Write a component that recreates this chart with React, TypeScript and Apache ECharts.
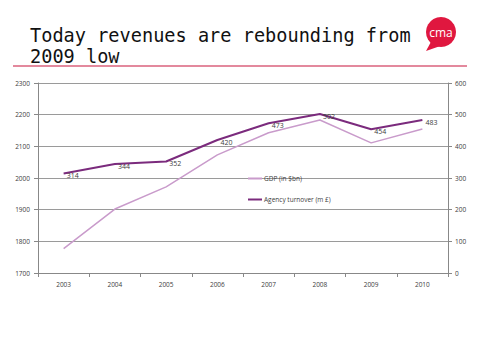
import React, { useEffect, useRef } from "react";
import * as echarts from "echarts";

const years = ["2003", "2004", "2005", "2006", "2007", "2008", "2009", "2010"];
const gdp = [1777, 1902, 1972, 2073, 2143, 2183, 2111, 2155];
const agency = [314, 344, 352, 420, 473, 502, 454, 483];
const titleLines = ["Today revenues are rebounding from", "2009 low"];

export default function App() {
  const ref = useRef<HTMLDivElement>(null);
  useEffect(() => {
    if (!ref.current) return;
    const chart = echarts.init(ref.current, undefined, { renderer: "svg" });
    const axisFont = { fontFamily: "Open Sans", fontSize: 6.5, color: "#404040", formatter: (v: number) => String(v) };
    chart.setOption({
      animation: false,
      backgroundColor: "#ffffff",
      title: {
        text: titleLines.join("\n"),
        left: 25,
        top: 20,
        textStyle: {
          fontFamily: "DejaVu Sans Mono",
          fontSize: 18.6,
          fontWeight: "normal",
          color: "#111111",
          lineHeight: 21,
        },
      },
      graphic: [
        { type: "line", shape: { x1: 13, y1: 66, x2: 467, y2: 66 }, style: { stroke: "#c8143c", lineWidth: 1.2 } },
        { type: "polygon", shape: { points: [[432, 40], [446, 44], [426, 51]] }, style: { fill: "#e0173f" } },
        { type: "circle", shape: { cx: 441, cy: 32, r: 15 }, style: { fill: "#e0173f" } },
        {
          type: "text",
          x: 441,
          y: 32,
          style: { text: "cma", fill: "#ffffff", fontSize: 12, fontFamily: "Open Sans", align: "center", verticalAlign: "middle" },
        },
      ],
      legend: {
        orient: "vertical",
        left: 243,
        top: 170,
        itemGap: 14,
        itemWidth: 14,
        itemHeight: 2,
        icon: "rect",
        textStyle: { fontFamily: "Open Sans", fontSize: 6.5, color: "#404040", padding: [0, 0, 0, -3] },
        data: ["GDP (in $bn)", "Agency turnover (m £)"],
      },
      grid: { left: 38, right: 32, top: 83, bottom: 87 },
      xAxis: {
        type: "category",
        data: years,
        boundaryGap: true,
        axisLine: { lineStyle: { color: "#888888" } },
        axisTick: { show: true, lineStyle: { color: "#888888" }, length: 4 },
        axisLabel: { fontFamily: "Open Sans", fontSize: 6.5, color: "#404040", margin: 8 },
      },
      yAxis: [
        {
          type: "value",
          min: 1700,
          max: 2300,
          interval: 100,
          axisLine: { show: true, lineStyle: { color: "#888888" } },
          axisTick: { show: true, length: 4, lineStyle: { color: "#888888" } },
          splitLine: { lineStyle: { color: "#9a9a9a", width: 1 } },
          axisLabel: { ...axisFont, margin: 8 },
        },
        {
          type: "value",
          min: 0,
          max: 600,
          interval: 100,
          position: "right",
          axisLine: { show: true, lineStyle: { color: "#888888" } },
          axisTick: { show: true, length: 4, lineStyle: { color: "#888888" } },
          splitLine: { show: false },
          axisLabel: { ...axisFont, margin: 7 },
        },
      ],
      series: [
        {
          name: "GDP (in $bn)",
          type: "line",
          yAxisIndex: 0,
          data: gdp,
          showSymbol: false,
          symbol: "none",
          lineStyle: { color: "#c99bcb", width: 1.5 },
          itemStyle: { color: "#c99bcb" },
        },
        {
          name: "Agency turnover (m £)",
          type: "line",
          yAxisIndex: 1,
          data: agency,
          symbol: "circle",
          symbolSize: 0.1,
          lineStyle: { color: "#7b2b7d", width: 2 },
          itemStyle: { color: "#7b2b7d" },
          label: {
            show: true,
            position: "right",
            distance: 3,
            offset: [0, 2],
            fontFamily: "Open Sans",
            fontSize: 7,
            color: "#404040",
          },
        },
      ],
    });
    return () => chart.dispose();
  }, []);
  return <div ref={ref} style={{ width: 480, height: 360, position: "absolute", left: 0, top: 0 }} />;
}
